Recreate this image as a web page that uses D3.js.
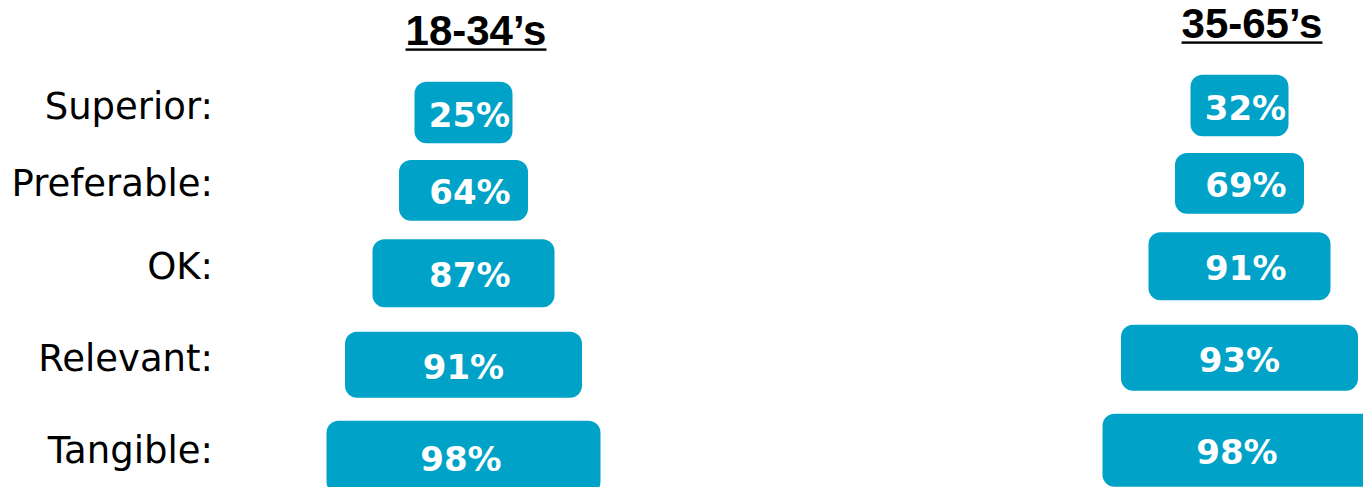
<!DOCTYPE html>
<html>
<head>
<meta charset="utf-8">
<script src="https://cdn.jsdelivr.net/npm/d3@7"></script>
<style>
  html, body { margin: 0; padding: 0; background: #fff; overflow: hidden; }
  svg { display: block; }
</style>
</head>
<body>
<svg id="chart" width="1363" height="487"></svg>
<script>
// Funnel tiers, top (most demanding) to bottom
const categories = ["Superior:", "Preferable:", "OK:", "Relevant:", "Tangible:"];
const groups = ["18-34\u2019s", "35-65\u2019s"];
const values18to34 = [25, 64, 87, 91, 98];
const values35to65 = [32, 69, 91, 93, 98];

const series = [values18to34, values35to65];

const svg = d3.select("#chart");

// Tier geometry: each funnel step gets wider, taller and more spaced out
const tierWidth = d3.scaleOrdinal(categories, [98, 129, 182, 237, 274]);
const tierHeight = d3.scaleOrdinal(categories, [61.6, 60.7, 68, 66, 73]);
const gapAbove = d3.scaleOrdinal(categories, [0, 16.7, 18.6, 24.4, 23]);
const labelShift = d3.scaleOrdinal(categories, [6, 6.5, 6.3, 0, -2.5]);
const firstTop = 81.7;

const steps = categories.map((c, i) => (i ? tierHeight(categories[i - 1]) : 0) + gapAbove(c));
const cum = d3.cumsum(steps);
const tierTop = d3.scaleOrdinal(categories, categories.map((c, i) => firstTop + cum[i]));

// Group columns and a small vertical stagger between them
const xGroup = d3.scalePoint(groups, [463.5, 1239.5]);
const yOffset = d3.scaleOrdinal(groups, [0, -7]);

const colour = "#00A2C7";

groups.forEach((g, gi) => {
  const rows = categories.map((c, i) => ({ cat: c, value: series[gi][i] }));
  const col = svg.append("g");
  const cx = xGroup(g);
  const dy = yOffset(g);

  col.selectAll("rect")
    .data(rows)
    .join("rect")
    .attr("x", d => cx - tierWidth(d.cat) / 2)
    .attr("y", d => tierTop(d.cat) + dy)
    .attr("width", d => tierWidth(d.cat))
    .attr("height", d => tierHeight(d.cat))
    .attr("rx", 12)
    .attr("ry", 12)
    .attr("fill", colour);

  col.selectAll("text.val")
    .data(rows)
    .join("text")
    .attr("class", "val")
    .attr("x", d => cx + labelShift(d.cat))
    .attr("y", d => tierTop(d.cat) + dy + tierHeight(d.cat) / 2 + 14)
    .attr("text-anchor", "middle")
    .attr("font-family", "'DejaVu Sans', Verdana, sans-serif")
    .attr("font-weight", "bold")
    .attr("font-size", 34)
    .attr("fill", "#fff")
    .text(d => d.value + "%");

  // Column heading, underlined
  const title = svg.append("text")
    .attr("x", cx + 12.5)
    .attr("y", 45 + dy)
    .attr("text-anchor", "middle")
    .attr("font-family", "'Liberation Sans', Arial, sans-serif")
    .attr("font-weight", "bold")
    .attr("font-size", 42)
    .attr("fill", "#000")
    .text(g);
  const tw = title.node().getComputedTextLength();
  svg.append("rect")
    .attr("x", cx + 12.5 - tw / 2)
    .attr("y", 45 + dy + 3.4)
    .attr("width", tw)
    .attr("height", 2.4)
    .attr("fill", "#000");
});

// Tier names, right-aligned beside the funnels
svg.append("g")
  .selectAll("text")
  .data(categories)
  .join("text")
  .attr("x", 213)
  .attr("y", c => tierTop(c) + yOffset(groups[1]) + tierHeight(c) / 2 + 13)
  .attr("text-anchor", "end")
  .attr("font-family", "'DejaVu Sans', Verdana, sans-serif")
  .attr("font-size", 37)
  .attr("fill", "#000")
  .text(c => c);
</script>
</body>
</html>
